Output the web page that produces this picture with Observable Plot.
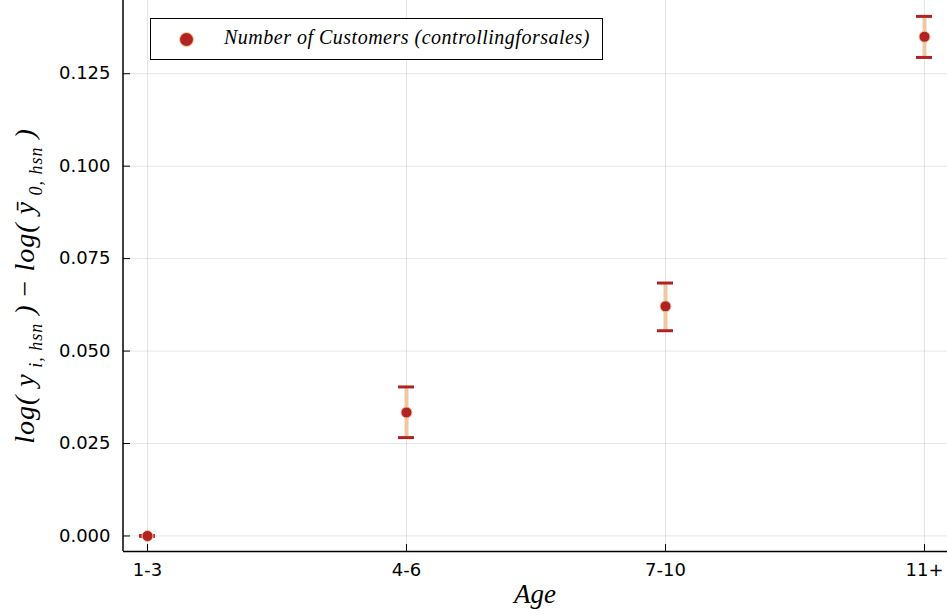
<!DOCTYPE html>
<html>
<head>
<meta charset="utf-8">
<script src="https://cdn.jsdelivr.net/npm/d3@7"></script>
<script src="https://cdn.jsdelivr.net/npm/@observablehq/plot@0.6"></script>
<style>
  html, body { margin: 0; padding: 0; background: #fff; }
  #wrap { position: relative; width: 947px; height: 616px; }
  #legend {
    position: absolute; left: 150px; top: 18px; width: 451px; height: 40px;
    border: 1px solid #000; background: #fff; box-sizing: content-box;
    font-family: "Liberation Serif", serif; font-style: italic; font-size: 20px;
    letter-spacing: 0.5px;
  }
  #legend .mk {
    position: absolute; left: 29px; top: 14px; width: 13px; height: 13px; border-radius: 50%;
    background: #b22222; box-shadow: 0 0 0 1px #f0c8a0;
  }
  #legend .lb { position: absolute; left: 73px; top: 7px; white-space: nowrap; }
</style>
</head>
<body>
<div id="wrap"></div>
<script>
const ages = ["1-3", "4-6", "7-10", "11+"];
const estimates = [0.0, 0.0334, 0.0621, 0.1350];
const lower = [-0.0001, 0.0266, 0.0555, 0.1294];
const upper = [0.0001, 0.0403, 0.0684, 0.1405];
const yTicks = [0, 0.025, 0.05, 0.075, 0.1, 0.125];
const legendLabel = "Number of Customers (controllingforsales)";

const data = ages.map((a, i) => ({age: a, est: estimates[i], lo: lower[i], hi: upper[i]}));

const red = "#b22222";
const peach = "#f0c8a0";

const chart = Plot.plot({
  width: 947, height: 616,
  marginLeft: 123, marginRight: 0, marginTop: 0, marginBottom: 65,
  style: {fontFamily: "DejaVu Sans, sans-serif", fontSize: "18px", background: "#fff", color: "#000"},
  x: {type: "band", domain: ages, paddingInner: 0.9, paddingOuter: 0.0365, label: null},
  y: {domain: [-0.0042, 0.1448], label: null},
  marks: [
    Plot.gridX(ages, {stroke: "#000", strokeOpacity: 0.1, strokeWidth: 1}),
    Plot.gridY(yTicks, {stroke: "#000", strokeOpacity: 0.1, strokeWidth: 1}),
    Plot.axisY(yTicks, {tickSize: -7, tickPadding: 20, tickFormat: d3.format(".3f"), label: null, fontSize: 18}),
    Plot.axisX(ages, {tickSize: -7, tickPadding: 19, label: null, fontSize: 18}),
    Plot.ruleY([-0.0042], {stroke: "#000", strokeWidth: 1.5}),
    Plot.ruleX(data, {x: "age", y1: "lo", y2: "hi", stroke: peach, strokeWidth: 4}),
    Plot.tickY(data, {x: "age", y: "lo", stroke: red, strokeWidth: 3, insetLeft: 5, insetRight: 5}),
    Plot.tickY(data, {x: "age", y: "hi", stroke: red, strokeWidth: 3, insetLeft: 5, insetRight: 5}),
    Plot.dot(data, {x: "age", y: "est", r: 5.5, fill: red, stroke: peach, strokeWidth: 1})
  ]
});

const svg = d3.select(chart);
// left spine
svg.append("line").attr("x1", 123).attr("x2", 123).attr("y1", 0).attr("y2", 551)
  .attr("stroke", "#000").attr("stroke-width", 1.5);

// x label
svg.append("text").attr("x", 535).attr("y", 603).attr("text-anchor", "middle")
  .attr("font-family", "Liberation Serif, serif").attr("font-style", "italic").attr("font-size", 27)
  .text("Age");

// y label
const yl = svg.append("text").attr("transform", "translate(34,286) rotate(-90)")
  .attr("text-anchor", "middle").attr("font-family", "Liberation Serif, serif")
  .attr("font-style", "italic").attr("font-size", 28).attr("letter-spacing", 1)
  .attr("xml:space", "preserve").style("white-space", "pre");
yl.append("tspan").text("log( y");
yl.append("tspan").attr("font-size", 18).attr("dy", 8).text(" i, hsn");
yl.append("tspan").attr("dy", -8).text(" ) ");
yl.append("tspan").attr("font-style", "normal").text("− ");
yl.append("tspan").text("log( ȳ");
yl.append("tspan").attr("font-size", 18).attr("dy", 8).text(" 0, hsn");
yl.append("tspan").attr("dy", -8).text(" )");

const wrap = document.getElementById("wrap");
wrap.appendChild(chart);
const lg = document.createElement("div");
lg.id = "legend";
lg.innerHTML = `<span class="mk"></span><span class="lb"></span>`;
lg.querySelector(".lb").textContent = legendLabel;
wrap.appendChild(lg);
</script>
</body>
</html>
